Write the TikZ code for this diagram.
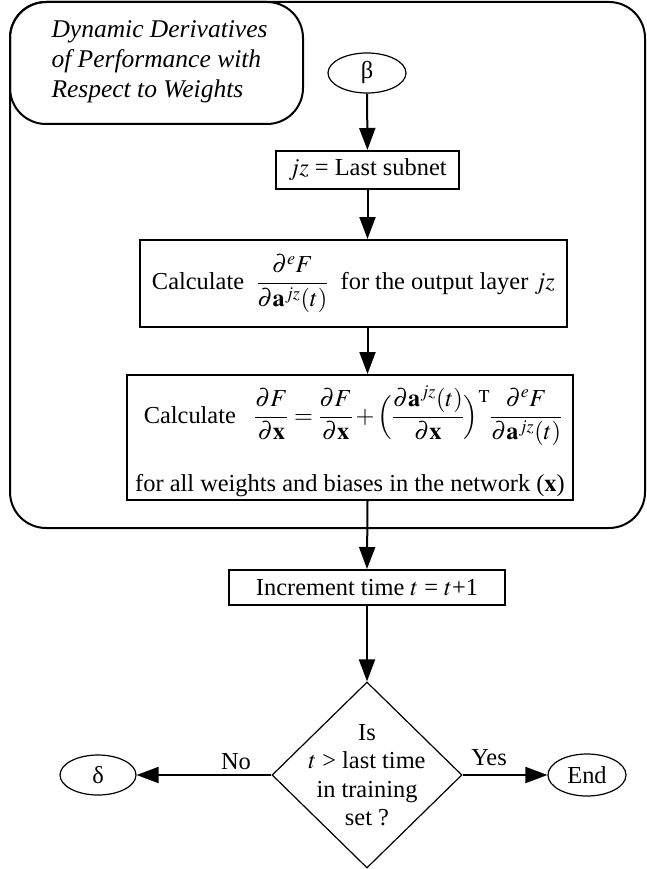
\documentclass[tikz,border=0pt]{standalone}
\usepackage{mathptmx}
\usepackage{amsmath}
\usepackage[no-math]{fontspec}
\setmainfont{Liberation Serif}
\usetikzlibrary{shapes.geometric,arrows.meta}
\begin{document}
\begin{tikzpicture}[x=1pt,y=-1pt,
  font=\fontsize{24.4}{29}\selectfont,
  box/.style={draw, line width=2pt, inner sep=0pt, align=center},
  arr/.style={line width=2pt, -{Triangle[length=22pt,width=16pt]}},
  oval/.style={draw, ellipse, line width=1.2pt, inner sep=0pt},
  frame/.style={line width=2pt, rounded corners=36pt}]
\useasboundingbox (0,0) rectangle (647,869);
% outer frame and title
\draw[frame] (10,2) rectangle (645,528);
\draw[frame] (10,2) rectangle (303,124);
\node[anchor=west, align=left, font=\fontsize{25.5}{30}\selectfont\itshape] (title) at (48,62)
  {Dynamic Derivatives\\of Performance with\\Respect to Weights};
% nodes
\node[oval, minimum width=78pt, minimum height=40pt] (beta) at (367,73) {β};
\node[box, minimum width=183pt, minimum height=38pt] (b1) at (367.5,170) {$jz$ = Last subnet};
\node[box, minimum width=427pt, minimum height=87pt] (b2) at (353.5,283.5)
  {Calculate \ $\dfrac{\partial^e F}{\partial \mathbf{a}^{jz}(t)}$ \ for the output layer $jz$};
\node[box, minimum width=446pt, minimum height=125pt] (b3) at (350,437.5) {};
\node (b3a) at (353,416)
  {Calculate \ \ $\dfrac{\partial F}{\partial \mathbf{x}} = \dfrac{\partial F}{\partial \mathbf{x}}\,{+}\,\Bigl(\dfrac{\partial \mathbf{a}^{jz}(t)}{\partial \mathbf{x}}\Bigr)^{\mathrm{T}} \dfrac{\partial^e F}{\partial \mathbf{a}^{jz}(t)}$};
\node (b3b) at (350,486) {for all weights and biases in the network ($\mathbf{x}$)};
\node[box, minimum width=276pt, minimum height=35pt] (b4) at (367,587.5) {Increment time $t$ = $t$+1};
\node[draw, diamond, line width=1.2pt, minimum width=190pt, minimum height=186pt, inner sep=0pt] (dec) at (367,775) {};
\node[align=center, font=\fontsize{24.4}{28.5}\selectfont] (dtext) at (dec.center) {Is\\$t$ > last time\\in training\\set ?};
\node[oval, minimum width=76pt, minimum height=40pt] (delta) at (98,775) {δ};
\node[oval, minimum width=78pt, minimum height=42pt] (end) at (587,775) {End};
\node (no) at (236,762) {No};
\node (yes) at (489,758) {Yes};
% connectors
\draw[arr] (beta) -- (b1);
\draw[arr] (b1.south) -- (b1.south |- b2.north);
\draw[arr] (b1.south |- b2.south) -- (b1.south |- b3.north);
\draw[arr] (b1.south |- b3.south) -- (b4.north);
\draw[arr] (b4) -- (dec.north);
\draw[arr] (dec.west) -- (delta.east);
\draw[arr] (dec.east) -- (end.west);
\end{tikzpicture}
\end{document}
